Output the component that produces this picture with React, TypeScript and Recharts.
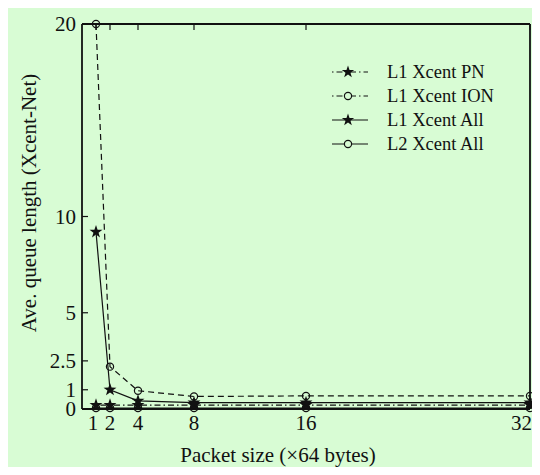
import { LineChart, Line, XAxis, YAxis, Legend, Label } from 'recharts'

const FONT = '"Liberation Serif", "Times New Roman", serif'
const BG = '#d8fcd4'
const INK = '#111'

// packet size in units of 64 bytes
const PACKET_SIZES = [1, 2, 4, 8, 16, 32]
const Y_TICKS = [0, 1, 2.5, 5, 10, 20]

const L1_PN = [0.2, 0.2, 0.2, 0.2, 0.2, 0.2]
const L1_ION = [20, 2.2, 0.95, 0.65, 0.68, 0.68]
const L1_ALL = [9.2, 1.0, 0.42, 0.33, 0.33, 0.33]
const L2_ALL = [0.05, 0.05, 0.05, 0.05, 0.05, 0.05]

const data = PACKET_SIZES.map((x, i) => ({
  x,
  pn: L1_PN[i],
  ion: L1_ION[i],
  all1: L1_ALL[i],
  all2: L2_ALL[i],
}))

const LEGEND_ITEMS = [
  { name: 'L1 Xcent PN', dash: '1.5 3 6 3', marker: 'star' },
  { name: 'L1 Xcent ION', dash: '1.5 3 6 3', marker: 'circle' },
  { name: 'L1 Xcent All', dash: undefined, marker: 'star' },
  { name: 'L2 Xcent All', dash: undefined, marker: 'circle' },
]

function starPoints(cx: number, cy: number, R: number, r: number) {
  const pts: string[] = []
  for (let i = 0; i < 10; i++) {
    const rad = i % 2 === 0 ? R : r
    const a = -Math.PI / 2 + (i * Math.PI) / 5
    pts.push(`${cx + rad * Math.cos(a)},${cy + rad * Math.sin(a)}`)
  }
  return pts.join(' ')
}

function StarDot(props: any) {
  const { cx, cy, index } = props
  if (cx == null || cy == null) return <g key={index} />
  return <polygon key={index} points={starPoints(cx, cy, 6.8, 2.7)} fill={INK} />
}

function CircleDot(props: any) {
  const { cx, cy, index } = props
  if (cx == null || cy == null) return <g key={index} />
  return <circle key={index} cx={cx} cy={cy} r={3.6} fill="none" stroke={INK} strokeWidth={1.2} />
}

// first and last labels are nudged inward like in the original figure
function XTick(props: any) {
  const { x, y, payload, index } = props
  const v = payload.value
  const anchor = v === 32 ? 'end' : 'middle'
  const nx = v === 32 ? x + 2 : v === 1 ? x - 3 : x
  return (
    <text key={index} x={nx} y={y} dy="0.71em" textAnchor={anchor} fill={INK} fontSize={21} fontFamily={FONT}>
      {v}
    </text>
  )
}

function QueueLegend() {
  return (
    <div style={{ fontFamily: FONT, fontSize: 18.5, color: INK }}>
      {LEGEND_ITEMS.map((item) => (
        <div key={item.name} style={{ display: 'flex', alignItems: 'center', height: 24 }}>
          <svg width={40} height={24} style={{ marginRight: 17 }}>
            <line x1={2} y1={12} x2={38} y2={12} stroke={INK} strokeWidth={1.2} strokeDasharray={item.dash} />
            {item.marker === 'star' ? (
              <polygon points={starPoints(18, 12, 6.5, 2.6)} fill={INK} />
            ) : (
              <circle cx={18} cy={12} r={3.6} fill={BG} stroke={INK} strokeWidth={1.2} />
            )}
          </svg>
          <span style={{ lineHeight: '24px', whiteSpace: 'nowrap' }}>{item.name}</span>
        </div>
      ))}
    </div>
  )
}

const noTick = (props: any) => <g key={props.index} />

const axisLine = { stroke: INK, strokeWidth: 1.8 }
const tickLine = { stroke: INK, strokeWidth: 1.2 }
const tickFont = { fill: INK, fontSize: 21, fontFamily: FONT }

export default function App() {
  return (
    <div style={{ width: 532, height: 467, background: BG, marginBottom: -8 }}>
      <style>{'.recharts-surface{overflow:visible}'}</style>
      <LineChart width={532} height={467} data={data} margin={{ top: 15, right: 9, bottom: 0, left: 0 }}>
        <XAxis
          xAxisId="b"
          dataKey="x"
          type="number"
          domain={[0, 32]}
          ticks={PACKET_SIZES}
          interval={0}
          height={66}
          tickSize={-6}
          tickMargin={12}
          axisLine={axisLine}
          tickLine={tickLine}
          tick={XTick}
        >
          <Label
            content={() => (
              <text x={270} y={454} textAnchor="middle" fill={INK} fontSize={21} fontFamily={FONT}>
                Packet size (×64 bytes)
              </text>
            )}
          />
        </XAxis>
        <XAxis
          xAxisId="t"
          orientation="top"
          dataKey="x"
          type="number"
          domain={[0, 32]}
          ticks={PACKET_SIZES}
          interval={0}
          height={1}
          tickSize={-6}
          axisLine={axisLine}
          tickLine={tickLine}
          tick={noTick}
        />
        <YAxis
          yAxisId="l"
          type="number"
          domain={[0, 20]}
          ticks={Y_TICKS}
          interval={0}
          width={74}
          tickSize={-6}
          tickMargin={12}
          axisLine={axisLine}
          tickLine={tickLine}
          tick={tickFont}
        >
          <Label
            content={() => (
              <text
                x={21}
                y={195}
                transform="rotate(-90 21 195)"
                textAnchor="middle"
                dominantBaseline="central"
                fill={INK}
                fontSize={21}
                fontFamily={FONT}
              >
                Ave. queue length (Xcent-Net)
              </text>
            )}
          />
        </YAxis>
        <YAxis
          yAxisId="r"
          orientation="right"
          type="number"
          domain={[0, 20]}
          ticks={Y_TICKS}
          interval={0}
          width={1}
          tickSize={-6}
          axisLine={axisLine}
          tickLine={tickLine}
          tick={noTick}
        />
        <Legend
          content={<QueueLegend />}
          layout="horizontal"
          verticalAlign="middle"
          align="center"
          wrapperStyle={{ left: 322, top: 52, width: 'auto' }}
        />
        <Line xAxisId="b" yAxisId="l" dataKey="all2" name="L2 Xcent All" stroke={INK} strokeWidth={1.2} dot={CircleDot} isAnimationActive={false} />
        <Line xAxisId="b" yAxisId="l" dataKey="pn" name="L1 Xcent PN" stroke={INK} strokeWidth={1.2} strokeDasharray="1.5 3 6 3" dot={StarDot} isAnimationActive={false} />
        <Line xAxisId="b" yAxisId="l" dataKey="all1" name="L1 Xcent All" stroke={INK} strokeWidth={1.2} dot={StarDot} isAnimationActive={false} />
        <Line xAxisId="b" yAxisId="l" dataKey="ion" name="L1 Xcent ION" stroke={INK} strokeWidth={1.2} strokeDasharray="6 4" dot={CircleDot} isAnimationActive={false} />
      </LineChart>
    </div>
  )
}
